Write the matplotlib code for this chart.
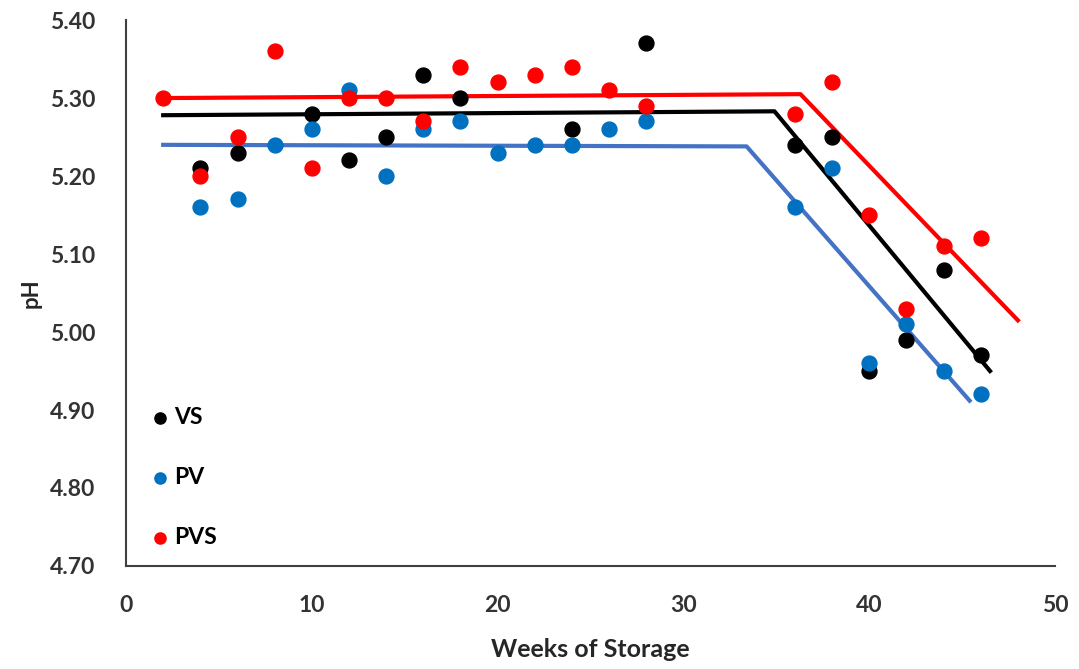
import numpy as np
import matplotlib.pyplot as plt

plt.rcParams['font.family'] = ['Lato', 'DejaVu Sans']
plt.rcParams['font.weight'] = 'bold'

nan = np.nan

# storage weeks and measured pH for each treatment (nan = point hidden under another)
weeks = [2, 4, 6, 8, 10, 12, 14, 16, 18, 20, 22, 24, 26, 28, 36, 38, 40, 42, 44, 46]
vs = [nan, 5.21, 5.23, nan, 5.28, 5.22, 5.25, 5.33, 5.30, nan, nan, 5.26, nan, 5.37,
      5.24, 5.25, 4.95, 4.99, 5.08, 4.97]
pv = [nan, 5.16, 5.17, 5.24, 5.26, 5.31, 5.20, 5.26, 5.27, 5.23, 5.24, 5.24, 5.26, 5.27,
      5.16, 5.21, 4.96, 5.01, 4.95, 4.92]
pvs = [5.30, 5.20, 5.25, 5.36, 5.21, 5.30, 5.30, 5.27, 5.34, 5.32, 5.33, 5.34, 5.31, 5.29,
       5.28, 5.32, 5.15, 5.03, 5.11, 5.12]

# broken-line fits: start, breakpoint, end
vs_fit_x = [2, 34.9, 46.5]
vs_fit_y = [5.278, 5.283, 4.950]
pv_fit_x = [2, 33.4, 45.4]
pv_fit_y = [5.240, 5.238, 4.912]
pvs_fit_x = [2, 36.3, 48.0]
pvs_fit_y = [5.300, 5.305, 5.015]

fig = plt.figure(figsize=(10.79, 6.69), dpi=100)
ax = fig.add_axes([0.1168, 0.154, 0.861, 0.816])

ax.plot(vs_fit_x, vs_fit_y, color='black', lw=3, zorder=2)
ax.plot(pv_fit_x, pv_fit_y, color='#4472C4', lw=3, zorder=2)
ax.plot(pvs_fit_x, pvs_fit_y, color='#FF0000', lw=3, zorder=2)

ax.scatter(weeks, vs, s=115, color='black', label='VS', zorder=3)
ax.scatter(weeks, pv, s=115, color='#0070C0', label='PV', zorder=3)
ax.scatter(weeks, pvs, s=115, color='#FF0000', label='PVS', zorder=3)

ax.set_xlim(0, 50)
ax.set_ylim(4.70, 5.40)
ax.set_xticks(np.arange(0, 51, 10))
ax.set_yticks(np.arange(4.70, 5.41, 0.10))
ax.set_yticklabels(['%.2f' % v for v in np.arange(4.70, 5.41, 0.10)])
ax.tick_params(axis='both', length=0, labelsize=16.5, colors='#333333')
ax.tick_params(axis='y', pad=22)
ax.tick_params(axis='x', pad=21)

for side in ['top', 'right']:
    ax.spines[side].set_visible(False)
for side in ['left', 'bottom']:
    ax.spines[side].set_color('#404040')
    ax.spines[side].set_linewidth(1.5)

ax.set_xlabel('Weeks of Storage', fontsize=18, fontweight='bold', color='#262626', labelpad=16)
ax.set_ylabel('pH', fontsize=16, fontweight='bold', color='#262626', labelpad=6)

ax.legend(loc='lower left', bbox_to_anchor=(-0.01, -0.005), frameon=False, fontsize=16.5,
          labelspacing=1.7, handletextpad=-0.4, markerscale=0.75)

fig.savefig('out.png', dpi=100)
